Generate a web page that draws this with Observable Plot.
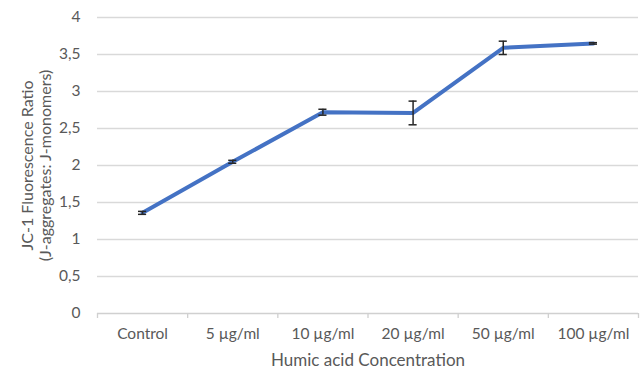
<!DOCTYPE html>
<html>
<head>
<meta charset="utf-8">
<script src="https://cdn.jsdelivr.net/npm/d3@7"></script>
<script src="https://cdn.jsdelivr.net/npm/@observablehq/plot@0.6"></script>
<style>
  html, body { margin: 0; padding: 0; background: #fff; }
  #chart { width: 643px; height: 372px; }
</style>
</head>
<body>
<div id="chart"></div>
<script>
const categories = ["Control", "5 µg/ml", "10 µg/ml", "20 µg/ml", "50 µg/ml", "100 µg/ml"];
const ratio = [1.36, 2.05, 2.72, 2.71, 3.59, 3.65];
const errorSD = [0.02, 0.02, 0.04, 0.16, 0.09, 0.01];
const yTicks = [0, 0.5, 1, 1.5, 2, 2.5, 3, 3.5, 4];
const xTitle = "Humic acid Concentration";
const yTitle = "JC-1 Fluorescence Ratio\n(J-aggregates: J-monomers)";

const data = categories.map((c, i) => ({cat: c, i, pos: i + 0.5, v: ratio[i], e: errorSD[i]}));
const boundaries = d3.range(categories.length + 1);
const fmt = v => String(v).replace(".", ",");
const textColor = "#595959";

const chart = Plot.plot({
  width: 643,
  height: 372,
  marginLeft: 97,
  marginRight: 5,
  marginTop: 17,
  marginBottom: 59,
  style: {fontFamily: "Lato, 'Open Sans', sans-serif", fontSize: "15px", color: textColor, background: "#fff"},
  x: {domain: [0, categories.length], axis: null, label: null},
  y: {domain: [0, 4], axis: null, label: null},
  marks: [
    Plot.gridY(yTicks.filter(t => t > 0), {stroke: "#d9d9d9", strokeOpacity: 1, strokeWidth: 1.3}),
    Plot.ruleY([0], {stroke: "#d0d0d0", strokeWidth: 1.3}),
    Plot.axisX(boundaries, {tickSize: 5, tickFormat: () => "", label: null, stroke: "#d0d0d0", strokeWidth: 1.3}),
    Plot.axisX(data.map(d => d.pos), {tickSize: 0, tickPadding: 14, label: null, tickFormat: p => categories[Math.floor(p)], fill: textColor, fontSize: 15.5}),
    Plot.axisY(yTicks, {tickSize: 0, tickPadding: 17, label: null, tickFormat: fmt, fill: textColor, fontSize: 15.5}),
    Plot.line(data, {x: "pos", y: "v", stroke: "#4472C4", strokeWidth: 4, strokeLinejoin: "round"}),
    Plot.ruleX(data, {x: "pos", y1: d => d.v - d.e, y2: d => d.v + d.e, stroke: "#262626", strokeWidth: 1.5}),
    Plot.ruleY(data, {y: d => d.v - d.e, x1: d => d.pos - 0.045, x2: d => d.pos + 0.045, stroke: "#262626", strokeWidth: 1.5}),
    Plot.ruleY(data, {y: d => d.v + d.e, x1: d => d.pos - 0.045, x2: d => d.pos + 0.045, stroke: "#262626", strokeWidth: 1.5}),
    Plot.text([xTitle], {frameAnchor: "bottom", dy: 52, fill: textColor, fontSize: 17}),
    Plot.text([yTitle], {frameAnchor: "left", dx: -61, rotate: -90, fill: textColor, fontSize: 16, lineAnchor: "middle", textAnchor: "middle", lineHeight: 1.12})
  ]
});
document.getElementById("chart").appendChild(chart);
</script>
</body>
</html>
